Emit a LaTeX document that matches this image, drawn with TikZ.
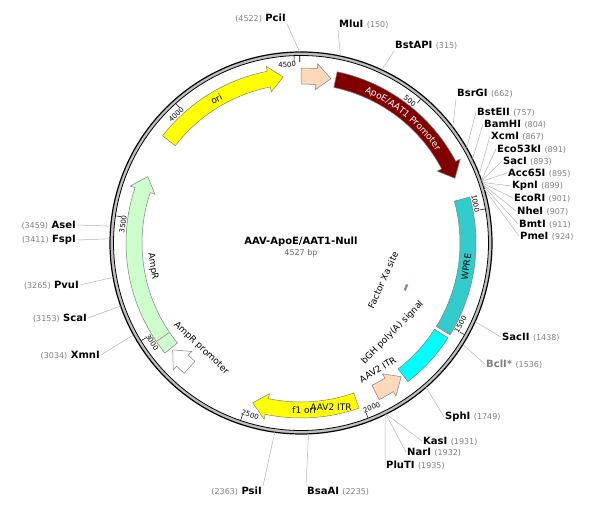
\documentclass[tikz,border=0pt]{standalone}
\usepackage{fontspec}
\setmainfont{DejaVu Sans}
\usetikzlibrary{%
  positioning,% wg. " of "
  decorations.text%
}

\definecolor{itrcol}{RGB}{253,217,183}
\definecolor{promcol}{RGB}{128,0,0}
\definecolor{wprecol}{RGB}{51,204,204}
\definecolor{polyacol}{RGB}{0,255,255}
\definecolor{oricol}{RGB}{255,255,0}
\definecolor{ampcol}{RGB}{204,255,204}
\definecolor{xacol}{RGB}{176,112,144}

\tikzset{
  enz/.style={font=\fontsize{10}{12}\selectfont\bfseries, inner sep=1pt},
  cutline/.style={draw=gray!60, line width=0.5pt},
  feat/.style={draw=gray, line width=0.5pt},
  flabel/.style={font=\fontsize{9}{10}\selectfont, inner sep=0pt},
  ticklabel/.style={font=\fontsize{7}{8}\selectfont, inner sep=0pt}
}
\newcommand{\num}[1]{{\fontsize{8}{10}\selectfont\mdseries\color{gray}#1}}
% forward and reverse arrows, plain blocks
\newcommand{\fwdarr}[3]{%
  \pgfmathsetmacro\aA{90-(#1/4527)*360}\pgfmathsetmacro\aB{90-(#2/4527)*360}%
  \pgfmathsetmacro\aH{\aB+5}%
  \draw[feat, fill=#3] (\aA:175) arc[start angle=\aA, end angle=\aH, radius=175]
    -- (\aH:180) -- (\aB:167) -- (\aH:154) -- (\aH:159)
    arc[start angle=\aH, end angle=\aA, radius=159] -- cycle;}
\newcommand{\revarr}[3]{%
  \pgfmathsetmacro\aA{90-(#1/4527)*360}\pgfmathsetmacro\aB{90-(#2/4527)*360}%
  \pgfmathsetmacro\aH{\aA-5}%
  \draw[feat, fill=#3] (\aB:175) arc[start angle=\aB, end angle=\aH, radius=175]
    -- (\aH:180) -- (\aA:167) -- (\aH:154) -- (\aH:159)
    arc[start angle=\aH, end angle=\aB, radius=159] -- cycle;}
\newcommand{\featblock}[3]{%
  \pgfmathsetmacro\aA{90-(#1/4527)*360}\pgfmathsetmacro\aB{90-(#2/4527)*360}%
  \draw[feat, fill=#3] (\aA:175) arc[start angle=\aA, end angle=\aB, radius=175]
    -- (\aB:159) arc[start angle=\aB, end angle=\aA, radius=159] -- cycle;}
\newcommand{\cut}[3]{%
  \pgfmathsetmacro\aC{90-(#2/4527)*360}%
  \coordinate (p#1) at ([shift={(c)}]\aC:191);
  \draw[cutline] (p#1) -- (#1.#3);}

\begin{document}
\begin{tikzpicture}[x=1pt, y=1pt, declare function={ang(\p)=90-(\p/4527)*360;}]
  \useasboundingbox (0,0) rectangle (600,504);
  \coordinate (c) at (301,261);

  % backbone
  \draw[gray!50, line width=3pt] (c) circle[radius=189.2];
  \draw[line width=1.2pt] (c) circle[radius=191];
  \draw[line width=0.8pt] (c) circle[radius=187.5];

  \begin{scope}[shift={(c)}]
    % ticks
    \foreach \t/\rot in {500/-90, 1000/-90, 1500/90, 2000/90, 2500/90,
                         3000/90, 3500/-90, 4000/-90, 4500/-90} {
      \draw[line width=0.5pt] ({ang(\t)}:187) -- ({ang(\t)}:182);
      \node[ticklabel, rotate={ang(\t)+\rot}] at ({ang(\t)+2.3}:179) {\t};
    }
    \draw[line width=0.8pt] ({ang(4522)}:187) -- ({ang(4522)}:181);

    % features
    \fwdarr{1}{130}{itrcol}
    \fwdarr{150}{845}{promcol}
    \featblock{940}{1530}{wprecol}
    \featblock{1545}{1790}{polyacol}
    \revarr{1800}{1930}{itrcol}
    \fwdarr{2020}{2475}{oricol}
    \fwdarr{2790}{2895}{white}
    \fwdarr{2905}{3690}{ampcol}
    \draw[feat] ({ang(2965)}:175) -- ({ang(2965)}:159);
    \fwdarr{3870}{4450}{oricol}
    \draw[xacol, line width=2.2pt] ({ang(1400)}:114) -- ({ang(1440)}:114);

    % feature labels
    \path[decorate, decoration={text along path, text align=center,
      text={|\color{white}\fontsize{9}{10}\selectfont|ApoE/AAT1 Promoter}}]
      ({ang(170)}:163.5) arc[start angle={ang(170)}, end angle={ang(820)}, radius=163.5];
    \node[flabel] (itrA) at (30,-164) {AAV2 ITR};
    \node[flabel, rotate={ang(1235)+90}] (wpre) at ({ang(1235)}:167) {WPRE};
    \node[flabel, rotate={ang(1690)+90}] (polya) at ({ang(1690)}:128) {bGH poly(A) signal};
    \node[flabel, rotate={ang(1871)+90}] (itrB) at ({ang(1871)}:148) {AAV2 ITR};
    \node[flabel, rotate={ang(1437)+90}] (xa) at ({ang(1437)}:90) {Factor Xa site};
    \node[flabel, rotate={ang(2250)+90}] (fori) at ({ang(2250)}:167) {f1 ori};
    \node[flabel, rotate={ang(2810)+90}] (amppr) at ({ang(2810)}:145) {AmpR promoter};
    \node[flabel, rotate={ang(3283)+90}] (ampr) at ({ang(3283)}:150) {AmpR};
    \node[flabel, rotate={ang(4145)-90}] (ori) at ({ang(4145)}:167) {ori};
  \end{scope}

  % title
  \node[font=\fontsize{10}{12}\selectfont\bfseries] (title) at (301,262) {AAV-ApoE/AAT1-Null};
  \node[font=\fontsize{8}{10}\selectfont, text=gray!80!black] (size) at (301,251) {4527 bp};

  % enzymes
  \node[enz, anchor=south east] (PciI) at (287,480) {\num{(4522)} PciI};
  \node[enz, anchor=south west] (MluI) at (338,474) {MluI \num{(150)}};
  \node[enz, anchor=south west] (BstAPI) at (394,453) {BstAPI \num{(315)}};
  \node[enz, anchor=south west] (BsrGI) at (456,405) {BsrGI \num{(662)}};
  \node[enz, anchor=west] (BstEII) at (476,392) {BstEII \num{(757)}};
  \node[enz, anchor=west] (BamHI) at (483,380) {BamHI \num{(804)}};
  \node[enz, anchor=west] (XcmI) at (490,368) {XcmI \num{(867)}};
  \node[enz, anchor=west] (Eco53kI) at (496,355) {Eco53kI \num{(891)}};
  \node[enz, anchor=west] (SacI) at (502,343) {SacI \num{(893)}};
  \node[enz, anchor=west] (Acc65I) at (507,331) {Acc65I \num{(895)}};
  \node[enz, anchor=west] (KpnI) at (511,318) {KpnI \num{(899)}};
  \node[enz, anchor=west] (EcoRI) at (513,306) {EcoRI \num{(901)}};
  \node[enz, anchor=west] (NheI) at (516,293) {NheI \num{(907)}};
  \node[enz, anchor=west] (BmtI) at (518,280) {BmtI \num{(911)}};
  \node[enz, anchor=west] (PmeI) at (519,268) {PmeI \num{(924)}};
  \node[enz, anchor=west] (SacII) at (501,167) {SacII \num{(1438)}};
  \node[enz, anchor=west, text=gray] (BclI) at (485,140) {BclI* \num{(1536)}};
  \node[enz, anchor=west] (SphI) at (444,87) {SphI \num{(1749)}};
  \node[enz, anchor=west] (KasI) at (422,63) {KasI \num{(1931)}};
  \node[enz, anchor=west] (NarI) at (406,52) {NarI \num{(1932)}};
  \node[enz, anchor=west] (PluTI) at (385,39) {PluTI \num{(1935)}};
  \node[enz, anchor=north west] (BsaAI) at (306,18) {BsaAI \num{(2235)}};
  \node[enz, anchor=north east] (PsiI) at (263,18) {\num{(2363)} PsiI};
  \node[enz, anchor=east] (XmnI) at (101,149) {\num{(3034)} XmnI};
  \node[enz, anchor=east] (ScaI) at (88,186) {\num{(3153)} ScaI};
  \node[enz, anchor=east] (PvuI) at (80,219) {\num{(3265)} PvuI};
  \node[enz, anchor=east] (FspI) at (77,264) {\num{(3411)} FspI};
  \node[enz, anchor=east] (AseI) at (77,279) {\num{(3459)} AseI};

  \cut{PciI}{4522}{south east}
  \cut{MluI}{150}{south west}
  \cut{BstAPI}{315}{south west}
  \cut{BsrGI}{662}{south west}
  \cut{BstEII}{757}{west}
  \cut{BamHI}{804}{west}
  \cut{XcmI}{867}{west}
  \cut{Eco53kI}{891}{west}
  \cut{SacI}{893}{west}
  \cut{Acc65I}{895}{west}
  \cut{KpnI}{899}{west}
  \cut{EcoRI}{901}{west}
  \cut{NheI}{907}{west}
  \cut{BmtI}{911}{west}
  \cut{PmeI}{924}{west}
  \cut{SacII}{1438}{west}
  \cut{BclI}{1536}{west}
  \cut{SphI}{1749}{west}
  \cut{KasI}{1931}{west}
  \cut{NarI}{1932}{west}
  \cut{PluTI}{1935}{west}
  \cut{BsaAI}{2235}{north west}
  \cut{PsiI}{2363}{north east}
  \cut{XmnI}{3034}{east}
  \cut{ScaI}{3153}{east}
  \cut{PvuI}{3265}{east}
  \cut{FspI}{3411}{east}
  \cut{AseI}{3459}{east}
\end{tikzpicture}
\end{document}
